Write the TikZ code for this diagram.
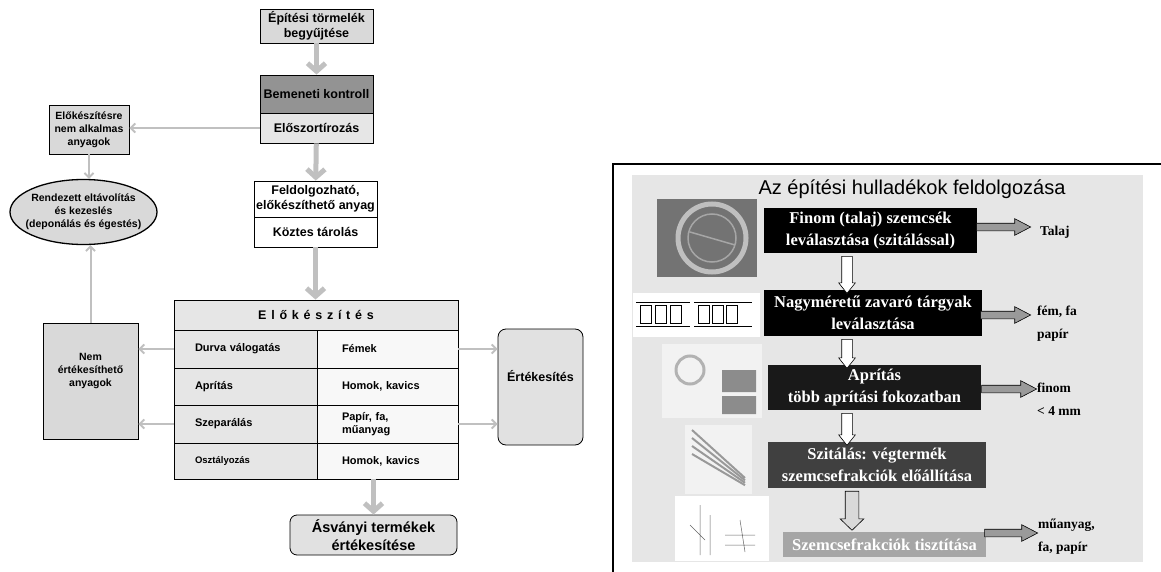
\documentclass[tikz,border=0pt]{standalone}
\usepackage{fontspec}
\setmainfont{Liberation Serif}
\setsansfont{Liberation Sans}
\usetikzlibrary{arrows.meta,shapes.geometric,shapes.arrows}
\definecolor{boxgray}{HTML}{D9D9D9}
\definecolor{ctrlgray}{HTML}{939393}
\definecolor{cellgray}{HTML}{E6E6E6}
\definecolor{cellwhite}{HTML}{F8F8F8}
\definecolor{argray}{HTML}{C0C0C0}
\definecolor{panelgray}{HTML}{E6E6E6}
\definecolor{blockgray}{HTML}{9A9A9A}
\tikzset{box/.style={rectangle,draw,line width=0.8pt,inner sep=0pt,align=center,font=\sffamily\bfseries\fontsize{12.5}{15}\selectfont}}
\tikzset{small/.style={font=\sffamily\bfseries\fontsize{10.5}{13}\selectfont}}
\tikzset{cellL/.style={box,fill=cellgray,minimum width=143pt,inner xsep=21pt,text width=101pt,align=left,font=\sffamily\bfseries\fontsize{11}{13}\selectfont}}
\tikzset{cellR/.style={box,fill=cellwhite,minimum width=141pt,inner xsep=25pt,text width=91pt,align=left,font=\sffamily\bfseries\fontsize{11}{13}\selectfont}}
\tikzset{fat/.style={draw=argray,line width=5pt,-{Straight Barb[length=8pt,width=18pt]}}}
\tikzset{slim/.style={draw=argray,line width=2pt,-{Straight Barb[length=4.5pt,width=9pt]}}}
\tikzset{dark/.style={rectangle,inner sep=0pt,align=center,text=white,font=\rmfamily\bfseries\fontsize{16.5}{22}\selectfont}}
\tikzset{rarrow/.style={single arrow,draw,line width=0.6pt,fill=blockgray,inner xsep=0pt,inner ysep=3.5pt,single arrow head extend=4.5pt,single arrow tip angle=55}}
\tikzset{darrow/.style={single arrow,draw,line width=0.6pt,fill=white,rotate=-90,inner xsep=0pt,inner ysep=5pt,single arrow head extend=3pt,single arrow tip angle=77}}
\tikzset{side/.style={anchor=west,inner sep=0pt,align=left,font=\rmfamily\bfseries\fontsize{13.5}{23}\selectfont}}

\begin{document}
\begin{tikzpicture}[x=1pt,y=-1pt]
  \useasboundingbox (0,0) rectangle (1161,572);
  % left flow chart
  \node[box,fill=boxgray,minimum width=113pt,minimum height=34pt] (collect) at (316.5,26) {Építési törmelék\\begyűjtése};
  \node[box,fill=ctrlgray,minimum width=113pt,minimum height=38pt] (control) at (316.5,94) {Bemeneti kontroll};
  \node[box,fill=cellgray,minimum width=113pt,minimum height=30pt] (presort) at (316.5,128) {Előszortírozás};
  \node[box,small,fill=boxgray,minimum width=80pt,minimum height=49pt] (unfit) at (89,129.5) {Előkészítésre\\nem alkalmas\\anyagok};
  \node[ellipse,draw,line width=1.3pt,fill=boxgray,minimum width=147pt,minimum height=65pt,inner sep=0pt,
    label={[small,align=center]center:Rendezett eltávolítás\\és kezeslés\\(deponálás és égestés)}] (dispose) at (83.5,212) {};
  \node[box,fill=white,minimum width=123pt,minimum height=36pt] (usable) at (315.5,199) {Feldolgozható,\\előkészíthető anyag};
  \node[box,fill=white,minimum width=123pt,minimum height=30pt] (store) at (315.5,232) {Köztes tárolás};
  \node[box,fill=cellgray,minimum width=284pt,minimum height=30pt] (head) at (316,315) {\addfontfeature{LetterSpace=38}Előkészítés};
  \foreach \n/\y/\h/\l/\r in {1/349/38/{Durva válogatás}/{\raisebox{-5pt}{Fémek}},2/386.5/37/{Aprítás}/{Homok, kavics},
      3/424/38/{Szeparálás}/{Papír, fa,\\műanyag},4/461/36/{\fontsize{9.5}{11}\selectfont Osztályozás}/{Homok, kavics}}
    {
    \node[cellL,minimum height=\h pt] (l\n) at (245.5,\y) {\l};
    \node[cellR,minimum height=\h pt] (r\n) at (387.5,\y) {\r};
    }
  \node[box,small,fill=boxgray,minimum width=95pt,minimum height=116pt] (waste) at (90.5,381) {Nem\\értékesíthető\\anyagok\\[10pt]};
  \node[box,fill=boxgray!80!white,rounded corners=8pt,minimum width=85pt,minimum height=116pt] (sale) at (540.5,387) {Értékesítés\\[8pt]};
  \node[box,fill=boxgray!80!white,rounded corners=7pt,minimum width=167pt,minimum height=40pt,font=\sffamily\bfseries\fontsize{14.5}{18}\selectfont] (mineral) at (373.5,535) {Ásványi termékek\\értékesítése};
  \draw[fat] (collect) -- (control);
  \draw[fat] (presort) -- (usable);
  \draw[fat] (store.south) -- (store.south |- head.north);
  \draw[fat] (r4.south -| mineral.north) -- (mineral.north);
  \draw[slim] (presort.west) -- (presort.west -| unfit.east);
  \draw[slim] (unfit.south) -- (unfit.south |- dispose.north);
  \draw[slim] (waste.north) -- (waste.north |- dispose.south);
  \foreach \a in {l1,l3}
    \draw[slim] (\a.west) -- (\a.west -| waste.east);
  \foreach \a in {r1,r3}
    \draw[slim] (\a.east) -- (\a.east -| sale.west);
  % right panel
  \draw[line width=1.5pt] (613,572) -- (613,164) -- (1161,164);
  \fill[panelgray] (632,175) rectangle (1143,562);
  \node[inner sep=0pt,font=\sffamily\fontsize{20}{24}\selectfont] (title) at (912,189) {Az építési hulladékok feldolgozása};
  % pictures
  \fill[black!55] (657,199) rectangle (757,277);
  \draw[black!25,line width=5pt] (712,238) circle (34);
  \draw[black!35,line width=1.5pt] (712,238) circle (24) (690,232) -- (735,245);
  \fill[white] (633,293) rectangle (760,337);
  \foreach \x in {640,655,670,698,712,726}
    \draw[line width=0.6pt] (\x,305) rectangle +(11,18);
  \draw[line width=0.5pt] (636,302) -- (690,302) (636,326) -- (690,326) (694,302) -- (752,302) (694,326) -- (752,326);
  \fill[white!95!black] (662,344) rectangle (762,418);
  \draw[black!30,line width=3pt] (690,370) circle (14);
  \fill[black!45] (722,370) rectangle (756,392) (722,396) rectangle (756,414);
  \fill[white!95!black] (685,425) rectangle (752,494);
  \foreach \i in {0,8,16,24}
    \draw[black!40,line width=2pt] (692,430+\i) -- (745,478+\i*0.3);
  \fill[white] (675,496) rectangle (769,561);
  \draw[black!60,line width=0.5pt] (700,505) -- (700,555) (710,515) -- (710,555) (690,525) -- (705,540) (725,535) -- (755,535) (725,545) -- (755,545) (740,520) -- (745,552);
  % process boxes
  \node[dark,fill=black,minimum width=213pt,minimum height=45pt] (b1) at (870.5,230.5) {Finom (talaj) szemcsék\\leválasztása (szitálással)};
  \node[dark,fill=black,minimum width=218pt,minimum height=46pt] (b2) at (873,313) {Nagyméretű zavaró tárgyak\\leválasztása};
  \node[dark,fill=black!90,minimum width=213pt,minimum height=45pt] (b3) at (874.5,387.5) {Aprítás\\több aprítási fokozatban};
  \node[dark,fill=black!75,minimum width=218pt,minimum height=46pt] (b4) at (877,465) {Szitálás: végtermék\\szemcsefrakciók előállítása};
  \node[dark,fill=black!35,minimum width=203pt,minimum height=25pt] (b5) at (884.5,544.5) {Szemcsefrakciók tisztítása};
  \node[side] (t1) at (1040,232) {Talaj};
  \node[side] (t2) at (1037,323.5) {fém, fa\\papír};
  \node[side] (t3) at (1037,399.5) {finom\\\textless{} 4 mm};
  \node[side] (t5) at (1038,536.5) {műanyag,\\fa, papír};
  % block arrows
  \node[rarrow,minimum height=54pt] (a1) at (1000,227) {};
  \node[rarrow,minimum height=50pt] (a2) at (1002,315) {};
  \node[rarrow,minimum height=55pt] (a3) at (1005.5,389) {};
  \node[rarrow,minimum height=53pt] (a5) at (1007.5,533) {};
  \node[darrow,minimum height=37pt] (d1) at (847,271.5) {};
  \node[darrow,minimum height=29pt] (d2) at (847,350.5) {};
  \node[darrow,minimum height=32pt] (d3) at (847,426) {};
  \node[darrow,fill=boxgray,minimum height=39pt,inner ysep=6.5pt,single arrow head extend=5pt,single arrow tip angle=92] (d4) at (852,507.5) {};
\end{tikzpicture}
\end{document}
